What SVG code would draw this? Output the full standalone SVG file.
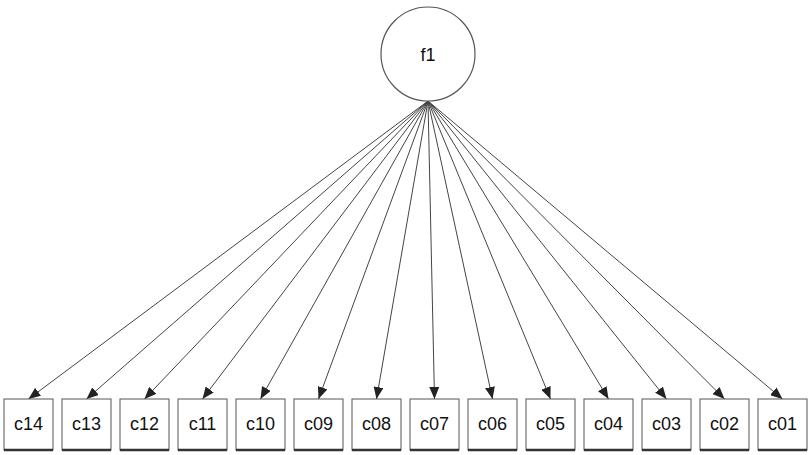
<svg xmlns="http://www.w3.org/2000/svg" width="812" height="455" viewBox="0 0 812 455">
<style>
.box{fill:#fff;stroke:#555;stroke-width:1}
.sh{stroke:#333;stroke-width:2.5}
.lbl{font-family:"Liberation Sans",Arial,sans-serif;font-size:18px;fill:#111;text-anchor:middle;dominant-baseline:central}
.edge{stroke:#444;stroke-width:1;fill:none;marker-end:url(#ah)}
</style>
<defs>
<marker id="ah" viewBox="0 0 12 10" refX="12" refY="5" markerWidth="12" markerHeight="10" markerUnits="userSpaceOnUse" orient="auto">
<path d="M0,0 L12,5 L0,10 z" fill="#222"/>
</marker>
</defs>
<rect width="812" height="455" fill="#fff"/>
<g id="connectors">
<line class="edge" x1="428" y1="101" x2="28.5" y2="399"/>
<line class="edge" x1="428" y1="101" x2="86.5" y2="399"/>
<line class="edge" x1="428" y1="101" x2="144.5" y2="399"/>
<line class="edge" x1="428" y1="101" x2="202.5" y2="399"/>
<line class="edge" x1="428" y1="101" x2="260.5" y2="399"/>
<line class="edge" x1="428" y1="101" x2="318.5" y2="399"/>
<line class="edge" x1="428" y1="101" x2="376.5" y2="399"/>
<line class="edge" x1="428" y1="101" x2="434.5" y2="399"/>
<line class="edge" x1="428" y1="101" x2="492.5" y2="399"/>
<line class="edge" x1="428" y1="101" x2="550.5" y2="399"/>
<line class="edge" x1="428" y1="101" x2="608.5" y2="399"/>
<line class="edge" x1="428" y1="101" x2="666.5" y2="399"/>
<line class="edge" x1="428" y1="101" x2="724.5" y2="399"/>
<line class="edge" x1="428" y1="101" x2="782.5" y2="399"/>
</g>
<g id="f1">
<circle cx="428" cy="54" r="47" fill="#fff" stroke="#555" stroke-width="1.2"/>
<text class="lbl" x="428" y="55">f1</text>
</g>
<g id="c14"><rect class="box" x="4" y="399" width="49" height="51"/><line class="sh" x1="4" y1="450" x2="53" y2="450"/><text class="lbl" x="28.5" y="424">c14</text></g>
<g id="c13"><rect class="box" x="62" y="399" width="49" height="51"/><line class="sh" x1="62" y1="450" x2="111" y2="450"/><text class="lbl" x="86.5" y="424">c13</text></g>
<g id="c12"><rect class="box" x="120" y="399" width="49" height="51"/><line class="sh" x1="120" y1="450" x2="169" y2="450"/><text class="lbl" x="144.5" y="424">c12</text></g>
<g id="c11"><rect class="box" x="178" y="399" width="49" height="51"/><line class="sh" x1="178" y1="450" x2="227" y2="450"/><text class="lbl" x="202.5" y="424">c11</text></g>
<g id="c10"><rect class="box" x="236" y="399" width="49" height="51"/><line class="sh" x1="236" y1="450" x2="285" y2="450"/><text class="lbl" x="260.5" y="424">c10</text></g>
<g id="c09"><rect class="box" x="294" y="399" width="49" height="51"/><line class="sh" x1="294" y1="450" x2="343" y2="450"/><text class="lbl" x="318.5" y="424">c09</text></g>
<g id="c08"><rect class="box" x="352" y="399" width="49" height="51"/><line class="sh" x1="352" y1="450" x2="401" y2="450"/><text class="lbl" x="376.5" y="424">c08</text></g>
<g id="c07"><rect class="box" x="410" y="399" width="49" height="51"/><line class="sh" x1="410" y1="450" x2="459" y2="450"/><text class="lbl" x="434.5" y="424">c07</text></g>
<g id="c06"><rect class="box" x="468" y="399" width="49" height="51"/><line class="sh" x1="468" y1="450" x2="517" y2="450"/><text class="lbl" x="492.5" y="424">c06</text></g>
<g id="c05"><rect class="box" x="526" y="399" width="49" height="51"/><line class="sh" x1="526" y1="450" x2="575" y2="450"/><text class="lbl" x="550.5" y="424">c05</text></g>
<g id="c04"><rect class="box" x="584" y="399" width="49" height="51"/><line class="sh" x1="584" y1="450" x2="633" y2="450"/><text class="lbl" x="608.5" y="424">c04</text></g>
<g id="c03"><rect class="box" x="642" y="399" width="49" height="51"/><line class="sh" x1="642" y1="450" x2="691" y2="450"/><text class="lbl" x="666.5" y="424">c03</text></g>
<g id="c02"><rect class="box" x="700" y="399" width="49" height="51"/><line class="sh" x1="700" y1="450" x2="749" y2="450"/><text class="lbl" x="724.5" y="424">c02</text></g>
<g id="c01"><rect class="box" x="758" y="399" width="49" height="51"/><line class="sh" x1="758" y1="450" x2="807" y2="450"/><text class="lbl" x="782.5" y="424">c01</text></g>
</svg>
